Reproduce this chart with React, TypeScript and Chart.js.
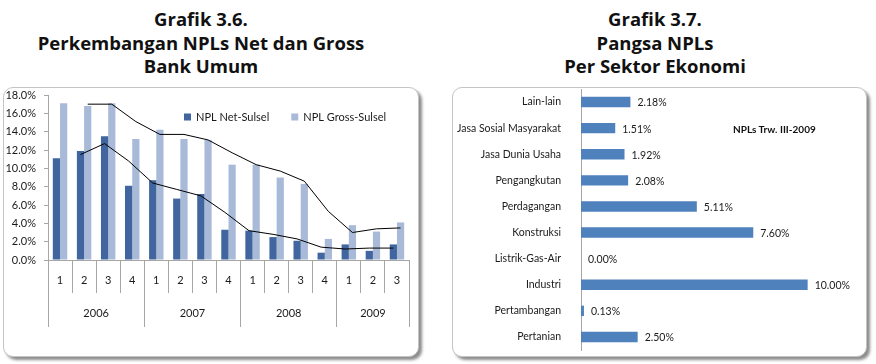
import React, { useEffect, useRef } from 'react';
import { Chart, registerables } from 'chart.js';

Chart.register(...registerables);

// ---------- Data: Grafik 3.6 ----------
const QUARTERS = ['1', '2', '3', '4', '1', '2', '3', '4', '1', '2', '3', '4', '1', '2', '3'];
const YEARS = ['2006', '2007', '2008', '2009'];
const QUARTERS_PER_YEAR = [4, 4, 4, 3];
const NPL_NET = [11.1, 11.9, 13.5, 8.1, 8.7, 6.7, 7.2, 3.3, 3.2, 2.5, 2.1, 0.8, 1.7, 1.0, 1.7];
const NPL_GROSS = [17.1, 16.8, 17.1, 13.2, 14.2, 13.2, 13.1, 10.4, 10.4, 9.0, 8.3, 2.3, 3.8, 3.1, 4.1];
// trend lines (2-period moving average)
const NET_TREND = [null, 11.5, 12.7, 10.8, 8.4, 7.7, 7.0, 5.2, 3.2, 2.8, 2.3, 1.4, 1.2, 1.3, 1.3];
const GROSS_TREND = [null, 17.0, 17.0, 15.1, 13.7, 13.7, 13.1, 11.7, 10.4, 9.7, 8.6, 5.3, 3.0, 3.4, 3.5];
const Y_MIN = 0;
const Y_MAX = 18;
const Y_STEP = 2;

// ---------- Data: Grafik 3.7 ----------
const SECTORS = [
  'Lain-lain',
  'Jasa Sosial Masyarakat',
  'Jasa Dunia Usaha',
  'Pengangkutan',
  'Perdagangan',
  'Konstruksi',
  'Listrik-Gas-Air',
  'Industri',
  'Pertambangan',
  'Pertanian',
];
const SECTOR_SHARE = [2.18, 1.51, 1.92, 2.08, 5.11, 7.6, 0.0, 10.0, 0.13, 2.5];

const FONT = 'Lato, "Noto Sans", sans-serif';
const TITLE_FONT = '"Open Sans", "Noto Sans", sans-serif';
const AXIS_GREY = '#a6a6a6';
const TEXT = '#1a1a1a';
const CAT_PCT = 0.6;
const NET_COLOR = '#41659f';
const GROSS_COLOR = '#a9bad8';

function LeftChart() {
  const ref = useRef<HTMLCanvasElement | null>(null);
  useEffect(() => {
    if (!ref.current) return;
    // year group boundaries and label centres on a linear helper axis
    const bounds: number[] = [-0.5];
    const centres: number[] = [];
    let acc = -0.5;
    QUARTERS_PER_YEAR.forEach((n) => {
      centres.push(acc + n / 2);
      acc += n;
      bounds.push(acc);
    });
    const yearLabel = new Map<number, string>();
    centres.forEach((c, i) => yearLabel.set(c, YEARS[i]));
    const yearTicks = [...bounds, ...centres].sort((a, b) => a - b);

    // trend lines pass through the centre of their own series' bars
    const alignTrend = {
      id: 'alignTrend',
      afterDatasetsUpdate(chart: any) {
        [
          [2, 0],
          [3, 1],
        ].forEach(([li, bi]) => {
          const lm = chart.getDatasetMeta(li);
          const bm = chart.getDatasetMeta(bi);
          lm.data.forEach((pt: any, i: number) => {
            if (bm.data[i]) pt.x = bm.data[i].x;
          });
        });
      },
    };

    const innerLegend = {
      id: 'innerLegend',
      afterDraw(chart: any) {
        const { ctx, chartArea } = chart;
        ctx.save();
        ctx.font = `11px ${FONT}`;
        ctx.textBaseline = 'middle';
        ctx.textAlign = 'left';
        const y = chartArea.top + 22;
        let x = chartArea.left + 136;
        [0, 1].forEach((i) => {
          const ds = chart.data.datasets[i];
          ctx.fillStyle = ds.backgroundColor;
          ctx.fillRect(x, y - 3.5, 7, 7);
          ctx.fillStyle = TEXT;
          ctx.fillText(ds.label, x + 12, y);
          x += 12 + ctx.measureText(ds.label).width + 22;
        });
        ctx.restore();
      },
    };

    const lineCommon = {
      type: 'line',
      borderColor: '#000',
      borderWidth: 1,
      pointRadius: 0,
      tension: 0,
      order: 0,
    };

    const chart = new Chart(ref.current, {
      type: 'bar',
      data: {
        labels: QUARTERS,
        datasets: [
          {
            label: 'NPL Net-Sulsel',
            data: NPL_NET,
            backgroundColor: NET_COLOR,
            categoryPercentage: CAT_PCT,
            barPercentage: 1,
            order: 2,
          },
          {
            label: 'NPL Gross-Sulsel',
            data: NPL_GROSS,
            backgroundColor: GROSS_COLOR,
            categoryPercentage: CAT_PCT,
            barPercentage: 1,
            order: 2,
          },
          { ...lineCommon, label: 'Net trend', data: NET_TREND } as any,
          { ...lineCommon, label: 'Gross trend', data: GROSS_TREND } as any,
        ],
      },
      options: {
        responsive: false,
        animation: false,
        devicePixelRatio: 1,
        layout: { padding: { left: 0, top: 8, right: 10, bottom: 30 } },
        plugins: {
          tooltip: { enabled: false },
          legend: { display: false },
        },
        scales: {
          x: {
            type: 'category',
            offset: true,
            weight: 0,
            grid: {
              offset: true,
              drawOnChartArea: false,
              drawTicks: true,
              tickLength: 33,
              color: AXIS_GREY,
            },
            border: { display: true, color: AXIS_GREY },
            ticks: {
              padding: -19,
              color: TEXT,
              font: { family: FONT, size: 11 },
              maxRotation: 0,
              autoSkip: false,
            },
            afterFit: (s: any) => {
              s.height = 33;
              s.paddingLeft = 0;
              s.paddingRight = 0;
            },
          },
          xYear: {
            type: 'linear',
            position: 'bottom',
            min: -0.5,
            max: 14.5,
            offset: false,
            weight: 1,
            afterBuildTicks: (s: any) => {
              s.ticks = yearTicks.map((v) => ({ value: v }));
            },
            ticks: {
              callback: (v: any) => yearLabel.get(Number(v)) ?? '',
              padding: -20,
              color: TEXT,
              font: { family: FONT, size: 11 },
              maxRotation: 0,
              autoSkip: false,
            },
            grid: {
              offset: false,
              drawOnChartArea: false,
              drawTicks: true,
              tickLength: 34,
              color: (ctx: any) =>
                ctx.tick && bounds.includes(ctx.tick.value) ? AXIS_GREY : 'rgba(0,0,0,0)',
            },
            border: { display: false },
            afterFit: (s: any) => {
              s.height = 34;
              s.paddingLeft = 0;
              s.paddingRight = 0;
            },
          },
          y: {
            min: Y_MIN,
            max: Y_MAX,
            ticks: {
              stepSize: Y_STEP,
              callback: (v: any) => Number(v).toFixed(1) + '%',
              padding: 8,
              color: TEXT,
              font: { family: FONT, size: 11 },
            },
            grid: { drawOnChartArea: false, drawTicks: true, tickLength: 4, color: AXIS_GREY },
            border: { display: true, color: AXIS_GREY },
            afterFit: (s: any) => {
              s.width = 45;
              s.paddingTop = 0;
              s.paddingBottom = 0;
            },
          },
        },
      } as any,
      plugins: [alignTrend, innerLegend],
    });
    return () => chart.destroy();
  }, []);
  return <canvas ref={ref} width={416} height={270} style={{ display: 'block' }} />;
}

function RightChart() {
  const ref = useRef<HTMLCanvasElement | null>(null);
  useEffect(() => {
    if (!ref.current) return;
    const valueLabels = {
      id: 'valueLabels',
      afterDatasetsDraw(chart: any) {
        const meta = chart.getDatasetMeta(0);
        const ctx = chart.ctx;
        ctx.save();
        ctx.font = `10.5px ${FONT}`;
        ctx.fillStyle = TEXT;
        ctx.textAlign = 'left';
        ctx.textBaseline = 'middle';
        meta.data.forEach((bar: any, i: number) => {
          ctx.fillText(SECTOR_SHARE[i].toFixed(2) + '%', bar.x + 7, bar.y + 1);
        });
        ctx.restore();
      },
    };
    const chart = new Chart(ref.current, {
      type: 'bar',
      data: {
        labels: SECTORS,
        datasets: [
          {
            label: 'NPLs Trw. III-2009',
            data: SECTOR_SHARE,
            backgroundColor: '#4f81bd',
            barPercentage: 0.4,
            categoryPercentage: 1,
          },
        ],
      },
      options: {
        indexAxis: 'y',
        responsive: false,
        animation: false,
        devicePixelRatio: 1,
        layout: { padding: { left: 0, top: 2, right: 14, bottom: 7 } },
        plugins: { legend: { display: false }, tooltip: { enabled: false } },
        scales: {
          x: { display: false, min: 0, max: 12 },
          y: {
            grid: { display: false },
            border: { display: true, color: AXIS_GREY },
            ticks: {
              padding: 12,
              color: TEXT,
              font: { family: FONT, size: 10.5 },
              autoSkip: false,
            },
            afterFit: (s: any) => {
              s.width = 129;
              s.paddingTop = 0;
              s.paddingBottom = 0;
            },
          },
        },
      } as any,
      plugins: [valueLabels],
    });
    return () => chart.destroy();
  }, []);
  return <canvas ref={ref} width={415} height={270} style={{ display: 'block' }} />;
}

const boxStyle: React.CSSProperties = {
  position: 'absolute',
  top: 87,
  height: 270,
  boxSizing: 'border-box',
  border: '1px solid #c4c4c4',
  borderRadius: 10,
  boxShadow: '3px 3px 3px rgba(0,0,0,0.45)',
  background: '#fff',
  overflow: 'hidden',
};

const titleStyle: React.CSSProperties = {
  position: 'absolute',
  top: 7,
  textAlign: 'center',
  fontFamily: TITLE_FONT,
  fontWeight: 700,
  fontSize: 18.5,
  lineHeight: '23.5px',
  color: '#111',
  whiteSpace: 'nowrap',
};

export default function App() {
  return (
    <div
      style={{
        position: 'fixed',
        left: 0,
        top: 0,
        width: 876,
        height: 364,
        background: '#fff',
        overflow: 'hidden',
      }}
    >
      <div style={{ ...titleStyle, left: 0, width: 402 }}>
        Grafik 3.6.
        <br />
        Perkembangan NPLs Net dan Gross
        <br />
        Bank Umum
      </div>
      <div style={{ ...titleStyle, left: 455, width: 400 }}>
        Grafik 3.7.
        <br />
        Pangsa NPLs
        <br />
        Per Sektor Ekonomi
      </div>
      <div style={{ ...boxStyle, left: 3, width: 416 }}>
        <div style={{ position: 'absolute', left: -1, top: -1 }}>
          <LeftChart />
        </div>
      </div>
      <div style={{ ...boxStyle, left: 452, width: 415 }}>
        <div style={{ position: 'absolute', left: -1, top: -1 }}>
          <RightChart />
        </div>
        <div
          style={{
            position: 'absolute',
            left: 280,
            top: 35,
            fontFamily: FONT,
            fontWeight: 700,
            fontSize: 10,
            color: '#111',
            whiteSpace: 'nowrap',
          }}
        >
          NPLs Trw. III-2009
        </div>
      </div>
    </div>
  );
}
